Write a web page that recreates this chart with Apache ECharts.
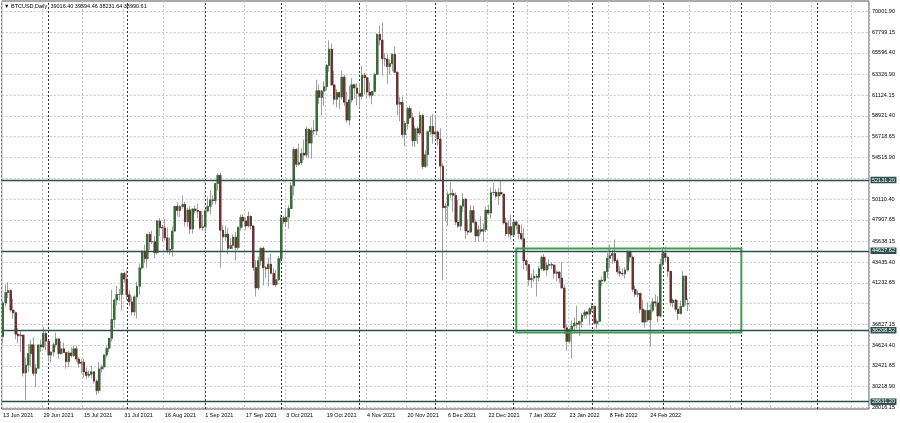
<!DOCTYPE html>
<html><head><meta charset="utf-8">
<script src="https://cdn.jsdelivr.net/npm/echarts@6/dist/echarts.min.js"></script>
<style>html,body{margin:0;padding:0;background:#fff}#c{width:900px;height:423px}</style>
</head><body><div id="c"></div><script>
// ---- data ----
const startDate = [2021, 5, 13];          // 13 Jun 2021 (first daily bar)
const slotCount = 343;                    // bars + empty shift area on the right
const headerText = '\u25BC BTCUSD,Daily  39016.40 39594.46 38231.64 38990.61';

const opens = [
35555,39097,40218,40406,38347,38053,35787,35615,35698,31676,32505,33723,34662,31637,32186,34649,34434,35867,
35040,33572,33897,34668,35287,33746,34235,33855,32877,33798,33520,34240,33155,32702,32822,31780,31421,31533,31796,30817,29807,32110,32313,33581,34292,35350,37337,39406,39995,40008,42235,
41626,39974,39201,38152,39747,40869,42816,44555,43798,46365,45585,45593,44428,47793,47096,47047,46004,44695,44801,46717,49339,48905,49321,49546,47706,48960,46942,49058,48897,48806,47074,
47166,48847,49327,50025,49944,51753,52633,46811,46091,46391,44883,45201,46063,44963,47092,48176,47783,47267,48278,47260,42843,40693,43574,44896,42839,42716,43208,42235,41034,41564,
43790,48116,47711,48199,49112,51514,55361,53805,53967,54968,54771,57484,56041,57401,57321,61593,60892,61553,62026,64262,65993,62210,60692,61393,60931,63039,60364,58482,60622,62228,61888,
61319,61004,63226,62970,61452,61125,61528,63327,67566,66971,64995,64950,64155,64470,65466,63557,60161,60368,56942,58119,59697,58730,56289,57570,57107,58960,53569,54815,57248,57806,
57005,57229,56477,53598,49200,49368,50582,50700,50504,47672,47243,49362,50098,46737,46612,48896,47665,46202,46848,46708,46880,48936,48628,50784,50822,50429,50809,50640,47588,46444,47178,
46306,47686,47345,46458,45897,43569,43160,41558,41733,41911,41821,42735,43949,42592,43099,43177,43113,42250,42375,41744,40681,36458,35030,36276,36654,36954,36852,37138,37784,38138,37918,
38483,38744,36953,37155,41500,41441,42412,43841,44118,44338,43565,42408,42244,42197,42587,44575,43961,40538,40030,40122,38431,37075,38286,37296,38332,39214,39105,37710,
43193,44354,43924,42451,39137,39400,38420,37988,38730,41941,39016.40];

const highs = [
39322,41064,41295,40516,39513,38187,36434,36112,35721,33299,34753,35164,35487,32637,34656,35219,36542,36074,
35040,33939,34909,35937,35294,35038,34900,33910,34042,34401,34592,34581,33336,33114,33159,32249,31936,32435,31885,31006,32858,32576,33650,34492,35364,40499,39542,40905,40593,42316,42414,
42599,40446,39773,39953,41341,43271,44689,45282,46456,46637,46743,46218,47887,48098,47357,47998,47088,46000,47198,49343,49757,49485,50482,49821,49192,49358,49150,49447,49610,48807,48462,
49035,50321,51039,50535,51863,52853,52886,47336,47262,47033,45969,46364,46598,47218,48450,48486,48163,48790,48328,47313,43639,44035,44978,45080,42996,43919,44313,42775,42599,44092,
48436,48359,49130,49456,51886,55568,55500,56001,55490,56401,57793,57627,57687,58478,62757,62274,61691,62614,64434,66930,66600,63715,61743,61505,63711,63293,61497,62128,62927,62345,62406,
62419,64242,63516,63123,62541,61590,63500,67673,68530,68789,65579,65460,64915,65495,66281,63617,60945,60976,58367,59859,60004,59266,57875,57803,59398,59186,55280,57393,58865,59113,
59042,57376,57600,53859,49699,50929,51934,51171,50797,50016,49485,50724,50205,48004,49473,49425,47944,47313,48298,47537,49328,49500,51332,51814,51156,51281,52016,50679,48119,47879,48472,
47827,47881,47510,47406,47033,43748,43200,42228,42663,42199,43001,44135,44278,43346,43724,43436,43179,42534,42478,43413,41060,36836,36433,37247,37545,38825,37234,38031,38370,38267,38647,
39115,38834,37387,41527,41913,42500,44401,45293,44727,45821,43810,42992,42747,42877,44667,44578,44132,40945,40429,40152,39430,38408,39161,38968,39630,40005,39845,43760,
44950,45077,44102,42479,39595,39549,39431,39363,42465,42004,39594.46];

const lows = [
34848,38735,39609,38176,37439,35255,34833,33865,31295,28805,31773,32384,31350,30184,32072,33902,34252,34086,
32883,32770,33402,34396,33213,33600,33832,32133,32318,33316,33354,32854,32237,31632,31175,31021,31164,31108,30563,29360,29526,31745,32057,33326,33881,35000,36441,38820,39330,38322,41274,
39422,38746,37782,37716,37458,39932,42618,43331,42848,44705,45341,43861,44200,46177,45579,45700,44376,44203,43998,46651,48273,48187,49075,47193,47150,46394,46446,48571,48103,46894,46767,
46564,48694,48486,49512,49545,50994,42831,44523,45668,44260,44819,44791,43591,44752,46773,47079,46864,47088,46876,42500,39787,40465,43064,40936,41759,40848,42190,40931,40829,41444,
43320,47451,47156,46976,49073,50488,53525,53651,53718,54264,54553,54477,54370,56957,56868,60206,58963,60012,61622,63610,62117,60122,59826,59643,60650,59991,58206,57900,60329,60734,60074,
59695,60673,61184,60799,60844,60164,61432,63300,66382,63208,64180,62333,63303,63647,63548,58973,58373,56542,55705,57469,58618,55679,55632,55964,56906,53300,53400,53576,56856,55980,
56553,55837,52000,41500,47727,47281,50175,48765,47358,47023,46751,48725,45894,46313,46500,47529,45579,45598,46406,45579,46630,48459,48065,50514,50182,49485,50450,47414,46201,46060,45819,
46200,46856,45835,45752,42645,42500,40938,40672,41338,39796,41407,42528,42447,41982,42669,42691,41680,41392,41242,40672,35791,34009,34785,33184,36005,36374,35629,36480,37408,37437,36733,
38113,36832,36375,37093,40868,41244,41748,42807,43232,43335,42114,41852,41937,41681,42428,43456,40249,39705,39719,38024,36950,36491,37050,34459,38111,38676,37018,37518,
42952,43432,41864,38805,38650,38178,37260,37867,38706,38832,38231.64];

const closes = [
39097,40218,40406,38347,38053,35787,35615,35698,31676,32505,33723,34662,31637,32186,34649,34434,35867,35040,
33572,33897,34668,35287,33746,34235,33855,32877,33798,33520,34240,33155,32702,32822,31780,31421,31533,31796,30817,29807,32110,32313,33581,34292,35350,37337,39406,39995,40008,42235,41626,
39974,39201,38152,39747,40869,42816,44555,43798,46365,45585,45593,44428,47793,47096,47047,46004,44695,44801,46717,49339,48905,49321,49546,47706,48960,46942,49058,48897,48806,47074,47166,
48847,49327,50025,49944,51753,52633,46811,46091,46391,44883,45201,46063,44963,47092,48176,47783,47267,48278,47260,42843,40693,43574,44896,42839,42716,43208,42235,41034,41564,43790,
48116,47711,48199,49112,51514,55361,53805,53967,54968,54771,57484,56041,57401,57321,61593,60892,61553,62026,64262,65993,62210,60692,61393,60931,63039,60364,58482,60622,62228,61888,61319,
61004,63226,62970,61452,61125,61528,63327,67566,66971,64995,64950,64155,64470,65466,63557,60161,60368,56942,58119,59697,58730,56289,57570,57107,58960,53569,54815,57248,57806,57005,
57229,56477,53598,49200,49368,50582,50700,50504,47672,47243,49362,50098,46737,46612,48896,47665,46202,46848,46708,46880,48936,48628,50784,50822,50429,50809,50640,47588,46444,47178,46306,
47686,47345,46458,45897,43569,43160,41558,41733,41911,41821,42735,43949,42592,43099,43177,43113,42250,42375,41744,40681,36458,35030,36276,36654,36954,36852,37138,37784,38138,37918,38483,
38744,36953,37155,41500,41441,42412,43841,44118,44338,43565,42408,42244,42197,42587,44575,43961,40538,40030,40122,38431,37075,38286,37296,38332,39214,39105,37710,43193,
44354,43924,42451,39137,39400,38420,37988,38730,41941,39439,38990.61];

// price-scale labels (grid lines) on the right
const gridPrices = ['70001.90','67799.15','65596.40','63326.90','61124.15','58921.40','56718.65','54515.90','52313.15',
  '50110.40','47907.65','45638.15','43435.40','41232.65','39029.90','36827.15','34624.40','32421.65','30218.90','28016.15'];
const hiddenGridLabels = ['52313.15','39029.90'];
// horizontal level lines drawn on the chart
const levelPrices = ['52131.20','44627.62','36208.52','28631.20'];
const bidPrice = '38990.61';
// rectangle object
const boxFrom = '2 Jan 2022', boxTo = '1 Apr 2022', boxTop = 44875, boxBottom = 35969;
const priceMin = 27857, priceMax = 71105;

// ---- build ----
const MON = ['Jan','Feb','Mar','Apr','May','Jun','Jul','Aug','Sep','Oct','Nov','Dec'];
const cats = [], monthStarts = [];
for (let i = 0; i < slotCount; i++) {
  const d = new Date(Date.UTC(startDate[0], startDate[1], startDate[2] + i));
  const s = d.getUTCDate() + ' ' + MON[d.getUTCMonth()] + ' ' + d.getUTCFullYear();
  cats.push(s);
  if (d.getUTCDate() === 1) monthStarts.push(s);
}
const nBars = opens.length;
const fullData = [], bodyData = [];
for (let i = 0; i < nBars; i++) {
  fullData.push([opens[i], closes[i], lows[i], highs[i]]);
  bodyData.push([opens[i], closes[i], Math.min(opens[i], closes[i]), Math.max(opens[i], closes[i])]);
}
const FONT = 'Liberation Sans';
const FS = 5.5;

const gridLineData = gridPrices.map(p => ({
  yAxis: parseFloat(p), name: p,
  lineStyle: {color: '#c8c8c8', type: [2, 2], width: 1},
  label: {show: hiddenGridLabels.indexOf(p) < 0, position: 'end', distance: 3, formatter: '{b}',
    color: '#000', fontSize: FS, fontFamily: FONT}
}));
const sepData = monthStarts.map(s => ({
  xAxis: s, lineStyle: {color: '#333', type: [2, 2], width: 1}, label: {show: false}
}));
const levelData = levelPrices.map(p => ({
  yAxis: parseFloat(p), name: p,
  lineStyle: {color: '#2F4F4F', width: 1.3, type: 'solid'},
  label: {show: true, position: 'end', distance: 1.5, formatter: '{b}', color: '#fff',
    backgroundColor: '#2F4F4F', padding: [0.5, 1.5, 0, 1.5], fontSize: FS, fontFamily: FONT}
}));
levelData.push({
  yAxis: parseFloat(bidPrice), name: bidPrice,
  lineStyle: {opacity: 0, width: 0},
  label: {show: true, position: 'end', distance: 1.5, formatter: '{b}', color: '#fff',
    backgroundColor: '#000', padding: [0.5, 1.5, 0, 1.5], fontSize: FS, fontFamily: FONT}
});

const chart = echarts.init(document.getElementById('c'));
chart.setOption({
  animation: false,
  backgroundColor: '#fff',
  title: {text: headerText, left: 4, top: 3, padding: 0, z: 10,
    textStyle: {fontSize: FS, fontWeight: 'normal', color: '#000', fontFamily: FONT}},
  grid: {left: 1, right: 31, top: 1, bottom: 14, show: true, borderColor: '#555', borderWidth: 1, backgroundColor: '#fff'},
  xAxis: {
    type: 'category', data: cats, boundaryGap: true,
    axisLine: {show: false}, axisTick: {show: false},
    axisLabel: {interval: 15, align: 'left', fontSize: FS, color: '#000', margin: 3.5, fontFamily: FONT,
      formatter: (v, idx) => idx < nBars ? v : ''},
    splitLine: {show: true, interval: 15, lineStyle: {color: '#c8c8c8', type: [2, 2], width: 1}}
  },
  yAxis: {type: 'value', position: 'right', min: priceMin, max: priceMax, show: false, scale: true},
  series: [
    {
      type: 'candlestick', name: 'range', data: fullData, barWidth: 2.4, z: 3,
      itemStyle: {color: '#a0a0a0', color0: '#a0a0a0', borderColor: '#a0a0a0', borderColor0: '#a0a0a0', borderWidth: 1},
      markLine: {silent: true, z: 1, symbol: ['none', 'none'], animation: false, data: gridLineData.concat(sepData)}
    },
    {
      type: 'candlestick', name: 'body', data: bodyData, barWidth: 1.5, z: 4,
      itemStyle: {color: '#1a621a', color0: '#681212', borderColor: '#1a621a', borderColor0: '#681212', borderWidth: 0.6},
      markLine: {silent: true, z: 6, symbol: ['none', 'none'], animation: false, data: levelData},
      markArea: {silent: true, z: 6, animation: false,
        itemStyle: {color: 'rgba(0,0,0,0)', borderColor: '#3f9f4f', borderWidth: 2},
        data: [[{xAxis: boxFrom, yAxis: boxTop}, {xAxis: boxTo, yAxis: boxBottom}]]}
    }
  ]
});
</script></body></html>
